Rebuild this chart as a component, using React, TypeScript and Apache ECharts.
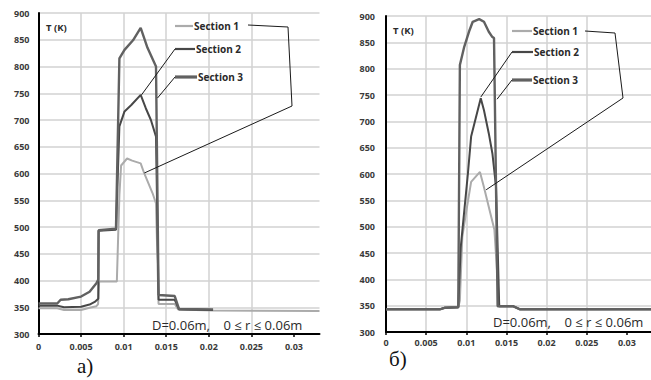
import { useEffect, useRef } from "react";
import * as echarts from "echarts";

type Pt = [number, number];

const seriesNames = ["Section 1", "Section 2", "Section 3"];
const xTickValues = [0, 0.005, 0.01, 0.015, 0.02, 0.025, 0.03];
const yMin = 300;
const yMax = 900;
const yStep = 50;
const xMax = 0.033;

// Panel a)
const aSection1: Pt[] = [
  [0, 348], [0.0022, 348], [0.003, 345], [0.005, 345], [0.006, 349], [0.0068, 352], [0.007, 356],
  [0.00712, 398], [0.0092, 398], [0.0095, 560], [0.0097, 615], [0.0104, 628], [0.011, 624],
  [0.012, 619], [0.0124, 601], [0.0134, 563], [0.0138, 544], [0.0141, 356], [0.016, 356],
  [0.0164, 346], [0.0205, 344], [0.033, 343],
];
const aSection2: Pt[] = [
  [0, 353], [0.0022, 353], [0.003, 350], [0.005, 351], [0.006, 355], [0.0066, 360], [0.00702, 366],
  [0.00706, 493], [0.0091, 495], [0.0095, 688], [0.0101, 716], [0.0109, 728], [0.012, 747],
  [0.0126, 722], [0.0132, 700], [0.0138, 669], [0.0141, 364], [0.016, 364], [0.0165, 346],
  [0.0205, 345],
];
const aSection3: Pt[] = [
  [0, 357], [0.0022, 357], [0.0026, 364], [0.0035, 365], [0.005, 370], [0.006, 379], [0.0068, 395],
  [0.00702, 402], [0.00706, 494], [0.0091, 497], [0.0095, 815], [0.0101, 831], [0.0111, 849],
  [0.012, 872], [0.0128, 835], [0.0138, 800], [0.0141, 373], [0.016, 371], [0.0165, 347],
  [0.0205, 346],
];

// Panel б)
const bSection1: Pt[] = [
  [0, 343], [0.0067, 343], [0.0073, 346], [0.009, 347], [0.0092, 360], [0.0095, 480], [0.0099, 520],
  [0.0106, 585], [0.0117, 604], [0.0122, 575], [0.013, 525], [0.0135, 494], [0.0141, 349],
  [0.0158, 349], [0.0167, 343], [0.033, 343],
];
const bSection2: Pt[] = [
  [0, 343], [0.0067, 343], [0.0073, 346], [0.009, 347], [0.0093, 460], [0.0102, 601], [0.0106, 671],
  [0.0118, 744], [0.0122, 721], [0.0128, 677], [0.01325, 639], [0.0137, 576], [0.0141, 349],
  [0.0158, 349], [0.0167, 343], [0.033, 343],
];
const bSection3: Pt[] = [
  [0, 343], [0.0067, 343], [0.0073, 346], [0.009, 347], [0.0092, 807], [0.00975, 842], [0.0104, 873],
  [0.0108, 889], [0.0116, 894], [0.0122, 889], [0.0128, 870], [0.01325, 860], [0.01345, 858],
  [0.0139, 349], [0.0158, 349], [0.0167, 343], [0.033, 343],
];

// Leader-line anchors (data coordinates) for each panel: Section 1, 2, 3
const aAnchors: Pt[] = [[0.01244, 601], [0.0121, 747], [0.01397, 741]];
const bAnchors: Pt[] = [[0.01247, 570], [0.0118, 746], [0.01383, 742]];

const colors = ["#ababab", "#474747", "#616161"];
const widths = [2, 2, 2.4];

const FONT = "'Open Sans', 'Noto Sans', sans-serif";

function makeXAxis(gridIndex: number, labelMargin: number) {
  return {
    type: "value" as const,
    gridIndex,
    min: 0,
    max: xMax,
    interval: 0.005,
    axisLine: { show: true, onZero: false, lineStyle: { color: "#000", width: 2 } },
    axisTick: { show: true, length: 3, customValues: xTickValues, lineStyle: { color: "#000", width: 1.5 } },
    axisLabel: {
      customValues: xTickValues,
      margin: labelMargin,
      fontSize: 9,
      fontWeight: "bold" as const,
      fontFamily: FONT,
      color: "#3a3a3a",
      formatter: (v: number) => String(+v.toFixed(3)),
    },
    splitLine: { show: true, showMaxLine: false, lineStyle: { color: "#d2d2d2", width: 1.5 } },
  };
}

function makeYAxis(gridIndex: number, labelMargin: number) {
  return {
    type: "value" as const,
    gridIndex,
    min: yMin,
    max: yMax,
    interval: yStep,
    axisLine: { show: true, lineStyle: { color: "#000", width: 2 } },
    axisTick: { show: false },
    axisLabel: {
      margin: labelMargin,
      fontSize: 9,
      fontWeight: "bold" as const,
      fontFamily: FONT,
      color: "#3a3a3a",
    },
    splitLine: { show: true, lineStyle: { color: "#d2d2d2", width: 1.5 } },
  };
}

function makeSeries(data: Pt[], idx: number, panel: number) {
  return {
    type: "line" as const,
    name: seriesNames[idx],
    xAxisIndex: panel,
    yAxisIndex: panel,
    data,
    showSymbol: false,
    symbol: "none",
    silent: true,
    z: 2 + idx,
    lineStyle: { color: colors[idx], width: widths[idx] },
    itemStyle: { color: colors[idx] },
  };
}

export default function App() {
  const ref = useRef<HTMLDivElement>(null);
  useEffect(() => {
    if (!ref.current) return;
    const chart = echarts.init(ref.current, undefined, { renderer: "svg", width: 651, height: 380 });
    chart.setOption({
      animation: false,
      backgroundColor: "#fff",
      grid: [
        { left: 38.5, top: 13, width: 281, height: 321 },
        { left: 386, top: 16, width: 267, height: 316 },
      ],
      xAxis: [makeXAxis(0, 8), makeXAxis(1, 6)],
      yAxis: [makeYAxis(0, 9), makeYAxis(1, 11)],
      series: [
        makeSeries(aSection1, 0, 0),
        makeSeries(aSection2, 1, 0),
        makeSeries(aSection3, 2, 0),
        makeSeries(bSection1, 0, 1),
        makeSeries(bSection2, 1, 1),
        makeSeries(bSection3, 2, 1),
      ],
    });

    const px = (grid: number, p: Pt) => chart.convertToPixel({ gridIndex: grid }, p) as number[];
    const a = aAnchors.map((p) => px(0, p));
    const b = bAnchors.map((p) => px(1, p));

    const lead = (pts: number[][]) => ({
      type: "polyline",
      shape: { points: pts },
      style: { stroke: "#1a1a1a", lineWidth: 1, fill: "none" },
      z: 20,
    });
    const swatch = (x1: number, x2: number, y: number, i: number) => ({
      type: "line",
      shape: { x1, y1: y, x2, y2: y },
      style: { stroke: colors[i], lineWidth: i === 2 ? 3.2 : 2.2 },
      z: 20,
    });
    const txt = (text: string, x: number, y: number, size: number, weight: string, align = "left", family = FONT, fill = "#2a2a2a") => ({
      type: "text",
      x,
      y,
      z: 21,
      style: {
        text,
        fill,
        fontSize: size,
        fontWeight: weight,
        fontFamily: family,
        textAlign: align,
        textVerticalAlign: "middle",
      },
    });

    chart.setOption({
      graphic: [
        // Panel a
        txt("T (K)", 46, 27.5, 9.5, "bold"),
        swatch(175, 193, 26, 0),
        txt(seriesNames[0], 194, 26, 10, "bold"),
        lead([[248, 25], [288, 27], [292, 106], a[0]]),
        swatch(175, 195, 49, 1),
        txt(seriesNames[1], 196, 49, 10, "bold"),
        lead([[175, 49], a[1]]),
        swatch(175, 197, 77, 2),
        txt(seriesNames[2], 198, 77, 10, "bold"),
        lead([[175, 77], a[2]]),
        txt("D=0.06m,    0 ≤ r ≤ 0.06m", 152, 325, 13, "normal"),
        txt("а)", 77, 366, 21, "normal", "left", "'Liberation Serif', 'DejaVu Serif', serif", "#111"),
        // Panel b
        txt("T (K)", 393, 30, 9.5, "bold"),
        swatch(512, 532, 31, 0),
        txt(seriesNames[0], 533, 31, 10, "bold"),
        lead([[585, 31], [615, 33], [623, 98], b[0]]),
        swatch(512, 533, 52, 1),
        txt(seriesNames[1], 534, 52, 10, "bold"),
        lead([[512, 52], b[1]]),
        swatch(512, 532, 80, 2),
        txt(seriesNames[2], 533, 80, 10, "bold"),
        lead([[512, 80], b[2]]),
        txt("D=0.06m,    0 ≤ r ≤ 0.06m", 493, 322, 13, "normal"),
        txt("б)", 389, 359, 21, "normal", "left", "'Liberation Serif', 'DejaVu Serif', serif", "#111"),
      ],
    });

    return () => chart.dispose();
  }, []);

  return (
    <div
      ref={ref}
      style={{ position: "fixed", left: 0, top: 0, width: 651, height: 380, background: "#fff" }}
    />
  );
}
